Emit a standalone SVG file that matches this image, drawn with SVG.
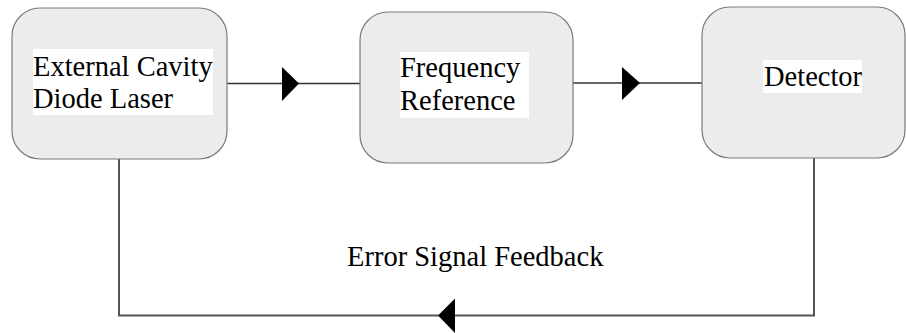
<svg xmlns="http://www.w3.org/2000/svg" width="906" height="333" viewBox="0 0 906 333">
<style>
.box{fill:#ececec;stroke:#7a7a7a;stroke-width:1.2}
.bg{fill:#ffffff}
.lbl{font-family:"Liberation Serif","Times New Roman",serif;font-size:28.5px;fill:#000}
.ln{fill:none;stroke:#333;stroke-width:1.6}
.fb{fill:none;stroke:#555;stroke-width:2}
.ah{fill:#000}
</style>
<rect width="906" height="333" fill="#fff"/>
<g id="connectors">
<line class="ln" x1="227" y1="83.5" x2="360" y2="83.5"/>
<polygon class="ah" points="282,67 299,83.5 282,101"/>
<line class="ln" x1="573" y1="83" x2="702" y2="83"/>
<polygon class="ah" points="622,67 640,83 622,100"/>
<polyline class="fb" points="814,158 814,315.5 119,315.5 119,159"/>
<polygon class="ah" points="438,315.5 455,298.5 455,333"/>
<text class="lbl" x="347" y="266">Error Signal Feedback</text>
</g>
<g id="laser">
<rect class="box" x="12" y="8" width="215" height="151" rx="28"/>
<rect class="bg" x="33" y="49" width="180" height="66"/>
<text class="lbl" x="33" y="76">External Cavity</text>
<text class="lbl" x="33" y="107.5">Diode Laser</text>
</g>
<g id="reference">
<rect class="box" x="360" y="12" width="213" height="151" rx="28"/>
<rect class="bg" x="400" y="52" width="129" height="66"/>
<text class="lbl" x="400" y="77">Frequency</text>
<text class="lbl" x="400" y="110">Reference</text>
</g>
<g id="detector">
<rect class="box" x="702" y="7" width="203" height="151" rx="28"/>
<rect class="bg" x="763" y="60" width="99" height="33"/>
<text class="lbl" x="764" y="86">Detector</text>
</g>
</svg>
